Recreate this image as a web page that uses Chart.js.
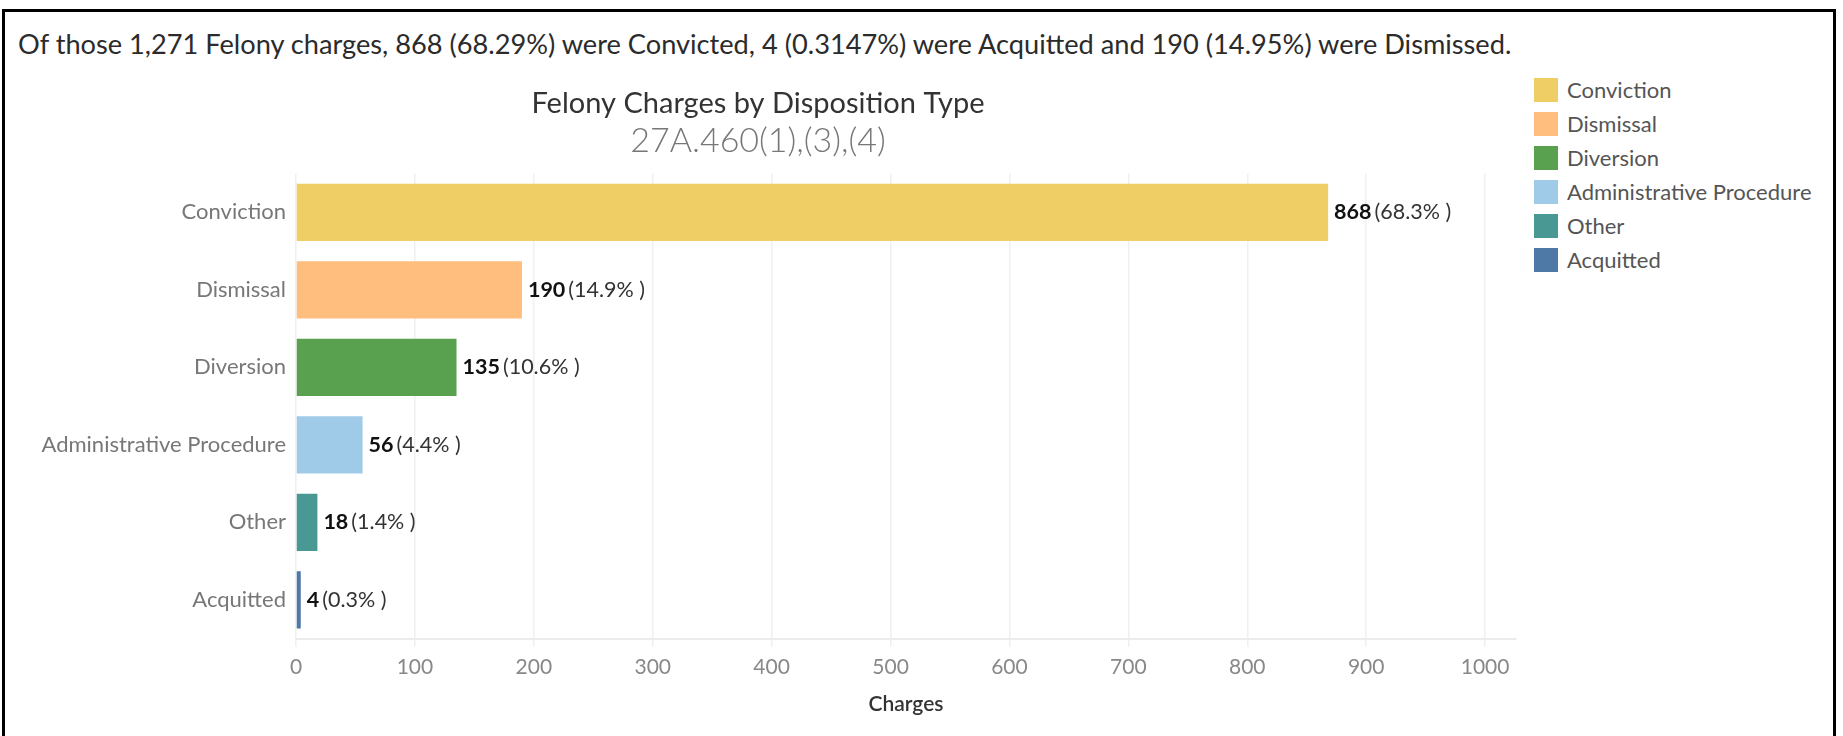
<!DOCTYPE html>
<html>
<head>
<meta charset="utf-8">
<script src="https://cdn.jsdelivr.net/npm/chart.js@4"></script>
<style>
  html, body { margin: 0; padding: 0; background: #fff; }
  body { width: 1843px; height: 736px; overflow: hidden; position: relative; font-family: Lato, "Open Sans", sans-serif; }
  #marco { position: absolute; left: 2px; top: 9px; width: 1828px; height: 800px; border: 3px solid #000; border-bottom: none; }
  #cabecera { position: absolute; left: 18px; top: 29px; font-size: 27.2px; line-height: 30px; color: #2b2b2b; white-space: nowrap; }
  #grafico { position: absolute; left: 0; top: 0; }
  #leyenda { position: absolute; left: 1534px; top: 78px; list-style: none; margin: 0; padding: 0; }
  #leyenda li { height: 34px; display: flex; align-items: flex-start; font-size: 22px; color: #555; }
  #leyenda li span.caja { width: 24px; height: 24px; margin-right: 9px; flex: none; }
  #leyenda li span.txt { line-height: 24px; }
</style>
</head>
<body>
<div id="marco"></div>
<div id="cabecera">Of those 1,271 Felony charges, 868 (68.29%) were Convicted, 4 (0.3147%) were Acquitted and 190 (14.95%) were Dismissed.</div>
<canvas id="grafico" width="1526" height="736"></canvas>
<ul id="leyenda"></ul>
<script>
// Datos
const categorias = ['Conviction', 'Dismissal', 'Diversion', 'Administrative Procedure', 'Other', 'Acquitted'];
const cantidades = [868, 190, 135, 56, 18, 4];
const porcentajes = ['68.3%', '14.9%', '10.6%', '4.4%', '1.4%', '0.3%'];
const colores = ['#EFCE66', '#FFBE7D', '#59A14F', '#A0CBE8', '#499894', '#4E79A7'];
const ticksX = [0, 100, 200, 300, 400, 500, 600, 700, 800, 900, 1000];

const fuente = 'Lato';

// Etiquetas al final de cada barra: valor en negrita + porcentaje
const etiquetasBarras = {
    id: 'etiquetasBarras',
    afterDatasetsDraw(chart) {
        const ctx = chart.ctx;
        const meta = chart.getDatasetMeta(0);
        ctx.save();
        ctx.textBaseline = 'middle';
        ctx.textAlign = 'left';
        meta.data.forEach((bar, i) => {
            let x = bar.x + 6;
            ctx.font = 'bold 21.5px ' + fuente;
            ctx.fillStyle = '#111';
            const valor = String(cantidades[i]);
            ctx.fillText(valor, x, bar.y);
            x += ctx.measureText(valor).width + 3;
            ctx.font = '21.5px ' + fuente;
            ctx.fillStyle = '#333';
            ctx.fillText('(' + porcentajes[i] + ' )', x, bar.y);
        });
        ctx.restore();
    }
};

// Leyenda HTML construida desde las etiquetas de Chart.js
const leyendaHtml = {
    id: 'leyendaHtml',
    afterUpdate(chart) {
        const ul = document.getElementById('leyenda');
        ul.innerHTML = '';
        chart.data.labels.forEach((lab, i) => {
            const li = document.createElement('li');
            const caja = document.createElement('span');
            caja.className = 'caja';
            caja.style.background = chart.data.datasets[0].backgroundColor[i];
            const txt = document.createElement('span');
            txt.className = 'txt';
            txt.textContent = lab;
            li.appendChild(caja);
            li.appendChild(txt);
            ul.appendChild(li);
        });
    }
};

const ctx = document.getElementById('grafico').getContext('2d');
const grafico = new Chart(ctx, {
    type: 'bar',
    data: {
        labels: categorias,
        datasets: [{
            label: 'Charges',
            data: cantidades,
            backgroundColor: colores,
            barPercentage: 0.74,
            categoryPercentage: 1
        }]
    },
    options: {
        indexAxis: 'y',
        responsive: false,
        animation: false,
        devicePixelRatio: 1,
        layout: { padding: { top: 60, left: 0, right: 10, bottom: 15 } },
        plugins: {
            legend: { display: false },
            tooltip: { enabled: false },
            title: {
                display: true,
                text: 'Felony Charges by Disposition Type',
                color: '#333',
                font: { family: fuente, size: 29, weight: 'normal' },
                padding: { top: 26, bottom: 0 }
            },
            subtitle: {
                display: true,
                text: '27A.460(1),(3),(4)',
                color: '#777',
                font: { family: fuente, size: 34, weight: '300' },
                padding: { top: 0, bottom: 12 }
            }
        },
        scales: {
            x: {
                min: 0,
                max: 1026,
                afterBuildTicks: s => { s.ticks = ticksX.map(v => ({ value: v })); },
                ticks: {
                    color: '#888',
                    font: { family: fuente, size: 21 },
                    padding: 8,
                    callback: v => String(v)
                },
                grid: { color: '#f0f0f0', lineWidth: 1.5, tickLength: 8 },
                border: { color: '#ececec', width: 2 },
                title: {
                    display: true,
                    text: 'Charges',
                    color: '#333',
                    font: { family: fuente, size: 21, weight: '600' },
                    padding: { top: 4, bottom: 4 }
                }
            },
            y: {
                afterFit: s => { s.width = 296; },
                ticks: { color: '#777', font: { family: fuente, size: 22 }, padding: 10 },
                grid: { display: false, drawTicks: false },
                border: { display: false }
            }
        }
    },
    plugins: [etiquetasBarras, leyendaHtml]
});
</script>
</body>
</html>
